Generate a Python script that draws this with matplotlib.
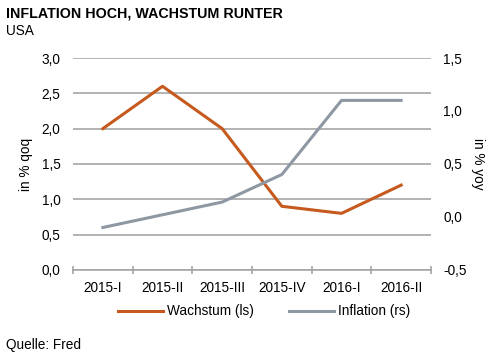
import matplotlib
matplotlib.use("Agg")
import matplotlib.pyplot as plt
from matplotlib.ticker import FuncFormatter

plt.rcParams["font.family"] = ["Liberation Sans", "DejaVu Sans"]

quarters = ["2015-I", "2015-II", "2015-III", "2015-IV", "2016-I", "2016-II"]
wachstum = [2.0, 2.6, 2.0, 0.9, 0.8, 1.2]
inflation = [-0.10, 0.02, 0.14, 0.40, 1.10, 1.10]

orange = "#C65A1E"
grey = "#8E98A2"
grid_col = "#A6A6A6"
fs = 9.8

comma = FuncFormatter(lambda v, p: f"{v:.1f}".replace(".", ","))

fig = plt.figure(figsize=(5, 3.56), dpi=100)
ax = fig.add_axes([0.146, 0.242, 0.716, 0.595])
ax2 = ax.twinx()

x = list(range(len(quarters)))
l1, = ax.plot(x, wachstum, color=orange, lw=2.2, label="Wachstum (ls)", zorder=3)
l2, = ax2.plot(x, inflation, color=grey, lw=2.2, label="Inflation (rs)", zorder=3)

ax.set_xlim(-0.5, 5.5)
ax.set_ylim(0, 3.0)
ax.set_yticks([0, 0.5, 1.0, 1.5, 2.0, 2.5, 3.0])
ax.yaxis.set_major_formatter(comma)
ax2.set_ylim(-0.5, 1.5)
ax2.set_yticks([-0.5, 0, 0.5, 1.0, 1.5])
ax2.yaxis.set_major_formatter(comma)

ax.set_xticks(x)
ax.set_xticklabels(quarters)
ax.set_xticks([i - 0.5 for i in range(7)], minor=True)
ax.tick_params(axis="x", which="major", length=0, pad=8, labelsize=fs)
ax.tick_params(axis="x", which="minor", length=6, direction="inout", color=grid_col, width=1.2)
ax.tick_params(axis="y", length=0, pad=9, labelsize=fs)
ax2.tick_params(axis="y", length=0, pad=9, labelsize=fs)

ax.grid(axis="y", color=grid_col, lw=1.2)
ax.set_axisbelow(True)
for a in (ax, ax2):
    for s in a.spines.values():
        s.set_visible(False)
ax.spines["bottom"].set_visible(True)
ax.spines["bottom"].set_color(grid_col)
ax.spines["bottom"].set_linewidth(1.2)

ax.set_ylabel("in % qoq", fontsize=fs, labelpad=6)
ax2.set_ylabel("in % yoy", fontsize=fs, rotation=270, labelpad=13)

fig.text(0.012, 0.952, "INFLATION HOCH, WACHSTUM RUNTER", fontsize=10.3, fontweight="bold")
fig.text(0.012, 0.902, "USA", fontsize=fs)
fig.text(0.012, 0.02, "Quelle: Fred", fontsize=fs)

fig.legend(handles=[l1, l2], loc="center", bbox_to_anchor=(0.528, 0.125), ncol=2,
           frameon=False, fontsize=fs, handlelength=3.3, columnspacing=2.6, handletextpad=0.3)

fig.savefig("out.png", dpi=100)
